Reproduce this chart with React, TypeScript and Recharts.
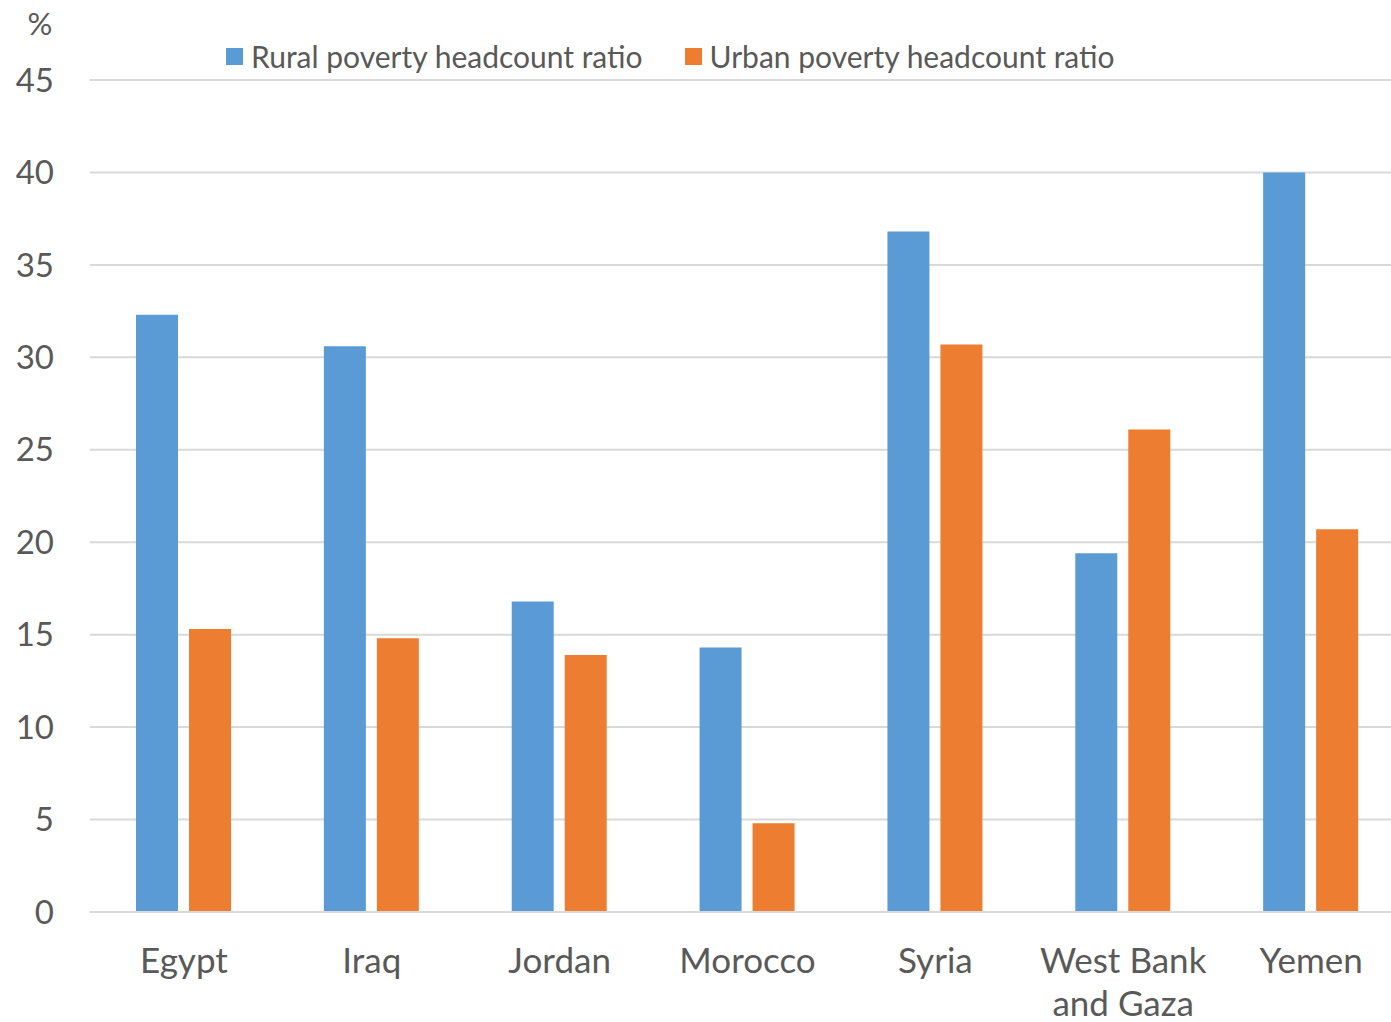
import React from "react";
import {
  BarChart,
  Bar,
  XAxis,
  YAxis,
  CartesianGrid,
  Legend,
} from "recharts";

const countries = ["Egypt", "Iraq", "Jordan", "Morocco", "Syria", "West Bank and Gaza", "Yemen"];
const rural = [32.3, 30.6, 16.8, 14.3, 36.8, 19.4, 40.0];
const urban = [15.3, 14.8, 13.9, 4.8, 30.7, 26.1, 20.7];
const yTicks = [0, 5, 10, 15, 20, 25, 30, 35, 40, 45];

const seriesNames = {
  rural: "Rural poverty headcount ratio",
  urban: "Urban poverty headcount ratio",
};

const BLUE = "#5B9BD5";
const ORANGE = "#ED7D31";
const TEXT = "#595959";
const FONT = "Lato, 'Open Sans', sans-serif";

const data = countries.map((c, i) => ({
  country: c,
  rural: rural[i],
  urban: urban[i],
}));

// splits long category names onto two lines like the original
const CountryTick = (props: any) => {
  const { x, y, payload } = props;
  const words: string[] = payload.value.split(" ");
  let lines: string[] = [payload.value];
  if (payload.value.length > 10) {
    lines = [words.slice(0, 2).join(" "), words.slice(2).join(" ")];
  }
  return (
    <text
      x={x}
      y={y}
      textAnchor="middle"
      fill={TEXT}
      fontSize={35}
      fontFamily={FONT}
    >
      {lines.map((l, i) => (
        <tspan key={i} x={x} dy={i === 0 ? 53 : 43}>
          {l}
        </tspan>
      ))}
    </text>
  );
};

const LegendContent = () => (
  <div
    style={{
      display: "flex",
      alignItems: "center",
      fontFamily: FONT,
      fontSize: 30,
      color: TEXT,
    }}
  >
    {[
      { name: seriesNames.rural, color: BLUE },
      { name: seriesNames.urban, color: ORANGE },
    ].map((item, i) => (
      <div
        key={item.name}
        style={{ display: "flex", alignItems: "center", marginLeft: i ? 42 : 0 }}
      >
        <span
          style={{
            display: "inline-block",
            width: 17,
            height: 17,
            background: item.color,
            marginRight: 8,
          }}
        />
        <span>{item.name}</span>
      </div>
    ))}
  </div>
);

const PercentLabel = (props: any) => {
  const { viewBox } = props;
  return (
    <text
      x={viewBox.x + 40}
      y={viewBox.y - 45}
      textAnchor="middle"
      fill={TEXT}
      fontSize={31}
      fontFamily={FONT}
    >
      %
    </text>
  );
};

export default function App() {
  return (
    <div
      style={{
        position: "absolute",
        left: 0,
        top: 0,
        width: 1391,
        height: 1022,
        overflow: "hidden",
        background: "#fff",
      }}
    >
      <BarChart
        width={1405}
        height={1022}
        data={data}
        margin={{ top: 80, right: 0, bottom: 0, left: 0 }}
        barSize={42}
        barGap={11}
      >
        <CartesianGrid vertical={false} stroke="#D9D9D9" strokeWidth={2} />
        <XAxis
          dataKey="country"
          axisLine={{ stroke: "#D9D9D9", strokeWidth: 2 }}
          tickLine={false}
          tick={<CountryTick />}
          interval={0}
          height={110}
        />
        <YAxis
          width={90}
          domain={[0, 45]}
          ticks={yTicks}
          axisLine={false}
          tickLine={false}
          tickSize={0}
          tickMargin={36}
          tick={{ fill: TEXT, fontSize: 33, fontFamily: FONT }}
          label={<PercentLabel />}
        />
        <Legend
          verticalAlign="middle"
          layout="horizontal"
          content={<LegendContent />}
          wrapperStyle={{ top: 38, left: 226, width: "auto" }}
        />
        <Bar dataKey="rural" name={seriesNames.rural} fill={BLUE} isAnimationActive={false} />
        <Bar dataKey="urban" name={seriesNames.urban} fill={ORANGE} isAnimationActive={false} />
      </BarChart>
    </div>
  );
}
